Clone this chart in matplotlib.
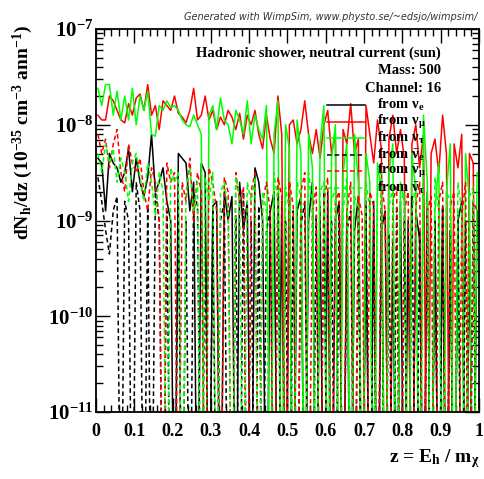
#!/usr/bin/env python3

import numpy as np
import matplotlib
matplotlib.use("Agg")
import matplotlib.pyplot as plt
from matplotlib.ticker import MultipleLocator, LogLocator, NullFormatter

# log10 of dN/dz per bin (bins of width 0.01 in z); -13 means empty bin
nue = [-8.35, -8.4, -8.9, -8.3, -8.4, -8.45, -8.6, -8.5, -8.25, -8.7,
       -8.35, -8.6, -8.75, -8.55, -8.1, -8.7, -8.6, -8.45, -8.8, -9.0,
       -13, -8.3, -8.35, -8.4, -8.9, -8.6, -13, -8.4, -8.5, -13,
       -8.85, -8.8, -13, -8.7, -9.0, -8.75, -13, -8.6, -9.1, -8.8,
       -13, -8.45, -8.6, -9.0, -13, -8.9, -8.7, -13, -8.8, -13,
       -8.6, -13, -8.9, -8.75, -13, -9.0, -8.6, -13, -8.85, -13,
       -8.7, -13, -9.0, -8.8, -13, -8.9, -13, -9.1, -8.75, -13,
       -9.0, -13, -8.8, -13, -9.1, -8.9, -13, -9.2, -13, -8.8,
       -13, -9.0, -13, -8.9, -9.2, -13, -8.7, -13, -9.0, -13,
       -8.85, -13, -9.1, -13, -9.0, -8.8, -13, -9.2, -13, -8.9]

numu = [-7.9, -7.95, -7.95, -7.7, -7.75, -7.85, -7.95, -7.98, -7.78, -7.9,
        -7.72, -7.68, -7.85, -7.58, -7.9, -7.8, -8.05, -7.75, -7.8, -7.85,
        -7.7, -7.88, -7.92, -7.98, -7.85, -7.62, -7.95, -7.9, -7.7, -7.95,
        -7.85, -8.05, -7.92, -8.0, -7.85, -7.92, -8.05, -7.88, -8.15, -7.9,
        -8.0, -7.85, -8.1, -8.25, -7.9, -8.15, -8.3, -7.7, -8.1, -13,
        -8.0, -7.95, -8.2, -8.05, -7.75, -8.1, -8.3, -8.05, -8.35, -8.0,
        -7.85, -8.3, -8.1, -13, -8.05, -8.2, -7.78, -8.3, -8.15, -13,
        -7.8, -8.1, -8.4, -7.95, -8.25, -13, -8.15, -7.9, -8.3, -8.05,
        -8.35, -13, -8.2, -8.0, -8.45, -8.1, -13, -8.3, -8.15, -8.5,
        -7.9, -8.3, -13, -8.2, -8.45, -8.1, -13, -8.3, -8.4, -13]

nutau = [-7.62, -7.8, -7.58, -7.58, -7.9, -7.65, -7.95, -7.7, -7.95, -7.62,
         -8.0, -7.7, -7.85, -7.65, -8.1, -8.12, -7.8, -7.85, -7.75, -7.82,
         -7.8, -7.85, -7.95, -8.0, -8.02, -7.9, -8.0, -8.1, -13, -7.9,
         -7.8, -8.05, -7.72, -7.95, -8.0, -8.2, -7.85, -7.95, -8.1, -7.75,
         -8.2, -7.9, -8.05, -8.15, -7.8, -13, -8.1, -7.75, -13, -8.0,
         -8.25, -13, -7.95, -8.3, -13, -8.1, -8.45, -13, -8.2, -7.8,
         -13, -8.35, -8.0, -13, -8.5, -8.2, -13, -8.1, -8.6, -13,
         -8.3, -8.6, -13, -8.4, -8.7, -13, -8.5, -8.2, -13, -8.6,
         -8.8, -13, -8.3, -8.7, -13, -7.9, -8.6, -13, -8.9, -8.4,
         -13, -8.7, -8.2, -13, -8.9, -13, -8.3, -8.8, -13, -8.5]

nuebar = [-8.55, -8.8, -9.1, -9.35, -8.9, -8.75, -13, -8.8, -9.0, -13,
          -8.6, -8.9, -13, -8.85, -13, -8.7, -9.0, -13, -8.9, -13,
          -13, -8.8, -13, -9.0, -13, -8.7, -8.85, -13, -9.1, -13,
          -8.9, -13, -9.0, -8.8, -13, -13, -8.95, -13, -8.7, -13,
          -9.0, -13, -8.85, -13, -9.1, -8.9, -13, -8.75, -13, -9.0,
          -13, -8.9, -13, -9.05, -8.8, -13, -13, -8.95, -13, -8.7,
          -13, -9.0, -13, -8.85, -13, -9.1, -8.9, -13, -9.0, -13,
          -8.8, -13, -9.05, -13, -8.9, -13, -9.15, -13, -8.85, -13,
          -9.0, -13, -8.75, -13, -9.1, -13, -8.9, -13, -9.0, -13,
          -8.85, -13, -9.1, -13, -8.95, -13, -9.0, -13, -8.8, -13]

numubar = [-8.1, -8.3, -8.15, -8.45, -8.2, -8.05, -8.5, -8.7, -8.2, -8.4,
           -8.5, -8.35, -8.7, -8.9, -8.45, -8.6, -9.0, -13, -8.4, -8.6,
           -8.5, -13, -8.6, -8.8, -8.35, -9.0, -8.5, -8.7, -13, -8.45,
           -8.6, -8.9, -13, -8.55, -8.7, -13, -8.5, -8.8, -8.65, -13,
           -8.7, -8.5, -13, -8.8, -8.6, -8.9, -13, -8.55, -8.75, -13,
           -8.6, -8.85, -13, -8.7, -8.5, -13, -8.9, -8.65, -13, -8.8,
           -8.55, -13, -8.8, -8.7, -13, -8.9, -8.6, -13, -8.75, -8.95,
           -13, -8.7, -8.85, -13, -8.6, -8.9, -13, -8.8, -8.65, -13,
           -8.9, -8.7, -13, -8.85, -8.6, -13, -8.9, -8.75, -13, -8.8,
           -8.6, -13, -8.85, -8.7, -13, -8.95, -8.6, -13, -8.8, -8.9]

nutaubar = [-8.3, -8.5, -8.2, -8.4, -8.25, -8.6, -8.35, -8.5, -8.8, -8.4,
            -8.3, -8.55, -8.8, -8.4, -8.6, -8.95, -8.5, -8.7, -13, -8.45,
            -8.6, -8.5, -13, -8.7, -8.45, -8.9, -8.6, -13, -8.55, -8.8,
            -8.5, -13, -8.7, -8.6, -8.9, -13, -8.55, -8.75, -13, -8.6,
            -8.8, -8.55, -13, -8.7, -8.9, -13, -8.5, -8.8, -13, -8.65,
            -8.9, -13, -8.6, -8.75, -13, -8.5, -8.85, -13, -8.7, -8.6,
            -13, -8.8, -8.65, -13, -8.9, -8.55, -13, -8.75, -8.85, -13,
            -8.6, -8.9, -13, -8.7, -8.5, -13, -8.85, -8.65, -13, -8.8,
            -8.7, -13, -8.9, -8.6, -13, -8.75, -8.85, -13, -8.55, -8.9,
            -13, -8.7, -8.8, -13, -8.6, -8.9, -13, -8.75, -8.65, -13]

labels = [r"from $\nu_e$", r"from $\nu_\mu$", r"from $\nu_\tau$",
          r"from $\bar{\nu}_e$", r"from $\bar{\nu}_\mu$", r"from $\bar{\nu}_\tau$"]

plt.rcParams["font.family"] = "Liberation Serif"
plt.rcParams["font.weight"] = "bold"
plt.rcParams["mathtext.fontset"] = "custom"
plt.rcParams["mathtext.rm"] = "Liberation Serif:bold"
plt.rcParams["mathtext.bf"] = "Liberation Serif:bold"
plt.rcParams["mathtext.it"] = "Liberation Serif:bold"


def main():
    z = np.arange(100) * 0.01 + 0.005
    series = [nue, numu, nutau, nuebar, numubar, nutaubar]
    colors = ["black", "red", "#00ff00", "black", "red", "#00ff00"]
    styles = ["-", "-", "-", (0, (3, 2)), (0, (3, 2)), (0, (3, 2))]

    fig = plt.figure(figsize=(4.85, 4.79), dpi=100)
    ax = fig.add_axes([96 / 485, 67 / 479, 383 / 485, 383 / 479])

    for vals, c, ls in zip(series, colors, styles):
        ax.plot(z, 10.0 ** np.array(vals), color=c, linestyle=ls, lw=1.1)

    ax.set_yscale("log")
    ax.set_xlim(0, 1)
    ax.set_ylim(1e-11, 1e-7)

    ax.xaxis.set_minor_locator(MultipleLocator(0.02))
    ax.set_xticks(np.arange(0, 1.01, 0.1))
    ax.set_xticklabels(["0", "0.1", "0.2", "0.3", "0.4", "0.5", "0.6", "0.7", "0.8", "0.9", "1"])
    ax.yaxis.set_minor_locator(LogLocator(base=10, subs=np.arange(2, 10), numticks=20))
    ax.yaxis.set_minor_formatter(NullFormatter())
    ax.set_yticks([1e-11, 1e-10, 1e-9, 1e-8, 1e-7])
    ax.set_yticklabels([r"$10^{-11}$", r"$10^{-10}$", r"$10^{-9}$", r"$10^{-8}$", r"$10^{-7}$"])

    ax.tick_params(which="both", direction="in", top=True, right=True, labelsize=13)
    ax.tick_params(which="major", length=10, width=1)
    ax.tick_params(which="minor", length=5, width=1)
    ax.tick_params(axis="x", which="major", pad=8)
    ax.tick_params(axis="y", which="major", pad=2, labelsize=15)
    for sp in ax.spines.values():
        sp.set_linewidth(1.3)

    ax.set_ylabel(r"dN$_{\rm h}$/dz (10$^{-35}$ cm$^{-3}$ ann$^{-1}$)", fontsize=14, fontweight="bold")
    ax.yaxis.set_label_coords(-0.16, 0.73)
    fig.text(0.99, 0.035, r"z = E$_{\rm h}$ / m$_\chi$", ha="right", fontsize=14, fontweight="bold")

    fig.text(0.985, 0.958, "Generated with WimpSim, www.physto.se/~edsjo/wimpsim/",
             ha="right", fontsize=7, style="italic", family="DejaVu Sans",
             fontweight="normal", color="#333333")

    for txt, yp in [("Hadronic shower, neutral current (sun)", 53),
                    ("Mass: 500", 70), ("Channel: 16", 88)]:
        ax.text((441 - 96) / 383, (412 - yp) / 383, txt, transform=ax.transAxes,
                ha="right", va="center", fontsize=10.5, fontweight="bold")

    # legend drawn by hand to match the layout
    for i, (c, ls, lab) in enumerate(zip(colors, styles, labels)):
        yl = (412 - (105 + 16.6 * i)) / 383
        ax.plot([(327 - 96) / 383, (365 - 96) / 383], [yl, yl], transform=ax.transAxes,
                color=c, linestyle=ls, lw=1.1)
        ax.text((377 - 96) / 383, yl, lab, transform=ax.transAxes,
                ha="left", va="center", fontsize=10.5, fontweight="bold")

    fig.savefig("out.png", dpi=100)


if __name__ == "__main__":
    main()
